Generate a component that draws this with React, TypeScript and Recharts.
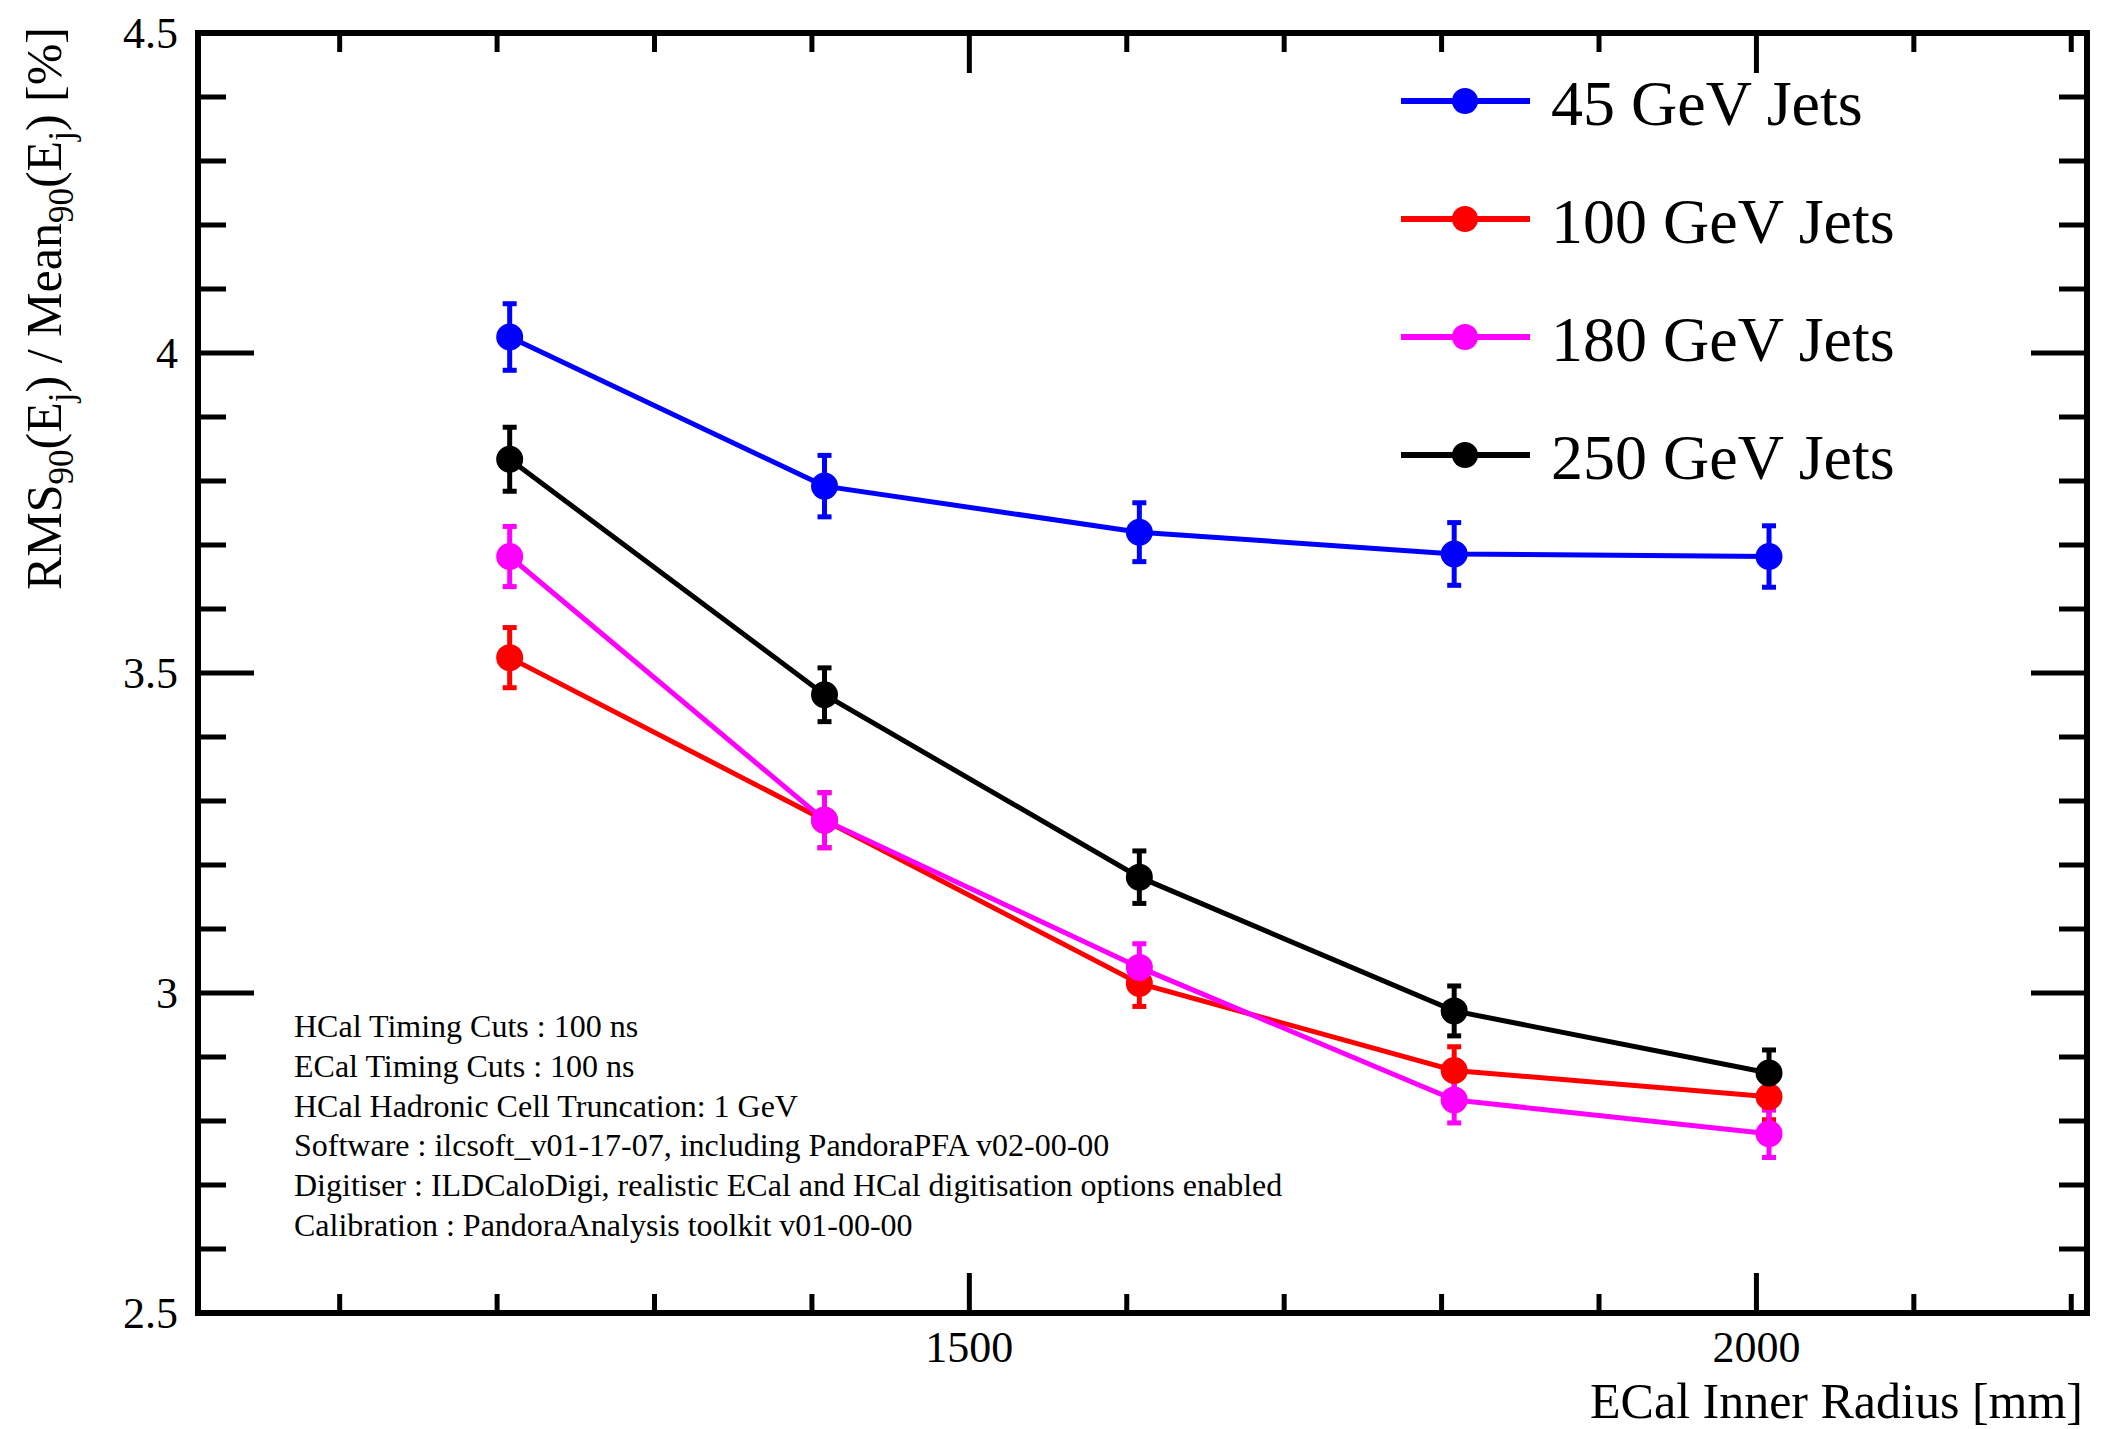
import React from 'react';
import { LineChart, Line, XAxis, YAxis, ErrorBar, ReferenceArea, Legend } from 'recharts';

// ECal inner radius scan, jet energy resolution per jet energy
const radii = [1208, 1408, 1608, 1808, 2008];

const jets45 = [4.025, 3.792, 3.72, 3.686, 3.682];
const jets45Err = [0.052, 0.048, 0.046, 0.049, 0.048];
const jets100 = [3.524, 3.27, 3.015, 2.879, 2.838];
const jets100Err = [0.047, 0.043, 0.036, 0.037, 0.036];
const jets180 = [3.682, 3.27, 3.04, 2.833, 2.78];
const jets180Err = [0.047, 0.043, 0.037, 0.036, 0.037];
const jets250 = [3.834, 3.466, 3.181, 2.972, 2.875];
const jets250Err = [0.05, 0.042, 0.041, 0.039, 0.036];

const xTicks = [1100, 1200, 1300, 1400, 1500, 1600, 1700, 1800, 1900, 2000, 2100, 2200];
const xLabels = [1500, 2000];
const yTicks = [
  2.5, 2.6, 2.7, 2.8, 2.9, 3, 3.1, 3.2, 3.3, 3.4, 3.5, 3.6, 3.7, 3.8, 3.9, 4, 4.1, 4.2, 4.3, 4.4, 4.5,
];
const yLabels = [2.5, 3, 3.5, 4, 4.5];

const notes = [
  'HCal Timing Cuts : 100 ns',
  'ECal Timing Cuts : 100 ns',
  'HCal Hadronic Cell Truncation: 1 GeV',
  'Software : ilcsoft_v01-17-07, including PandoraPFA v02-00-00',
  'Digitiser : ILDCaloDigi, realistic ECal and HCal digitisation options enabled',
  'Calibration : PandoraAnalysis toolkit v01-00-00',
];

const series = [
  { key: 'j45', name: '45 GeV Jets', color: '#0000ff' },
  { key: 'j100', name: '100 GeV Jets', color: '#ff0000' },
  { key: 'j180', name: '180 GeV Jets', color: '#ff00ff' },
  { key: 'j250', name: '250 GeV Jets', color: '#000000' },
];

const rows = radii.map((r, i) => ({
  radius: r,
  j45: jets45[i],
  j45e: jets45Err[i],
  j100: jets100[i],
  j100e: jets100Err[i],
  j180: jets180[i],
  j180e: jets180Err[i],
  j250: jets250[i],
  j250e: jets250Err[i],
}));

const SERIF = '"Liberation Serif", "DejaVu Serif", serif';
const X_DOMAIN: [number, number] = [1010, 2210];
const Y_DOMAIN: [number, number] = [2.5, 4.5];
const labelStyle = { fontFamily: SERIF, fontSize: 44 };

const bottomTick = (props: any) => {
  const { x, y, payload } = props;
  const major = xLabels.includes(payload.value);
  return (
    <g>
      <line x1={x} x2={x} y1={y} y2={y - (major ? 40 : 19)} stroke="#000" strokeWidth={5} />
      {major && (
        <text x={x} y={y + 49} textAnchor="middle" style={labelStyle} fill="#000">
          {payload.value}
        </text>
      )}
    </g>
  );
};

const topTick = (props: any) => {
  const { x, y, payload } = props;
  const major = xLabels.includes(payload.value);
  return <line x1={x} x2={x} y1={y} y2={y + (major ? 40 : 19)} stroke="#000" strokeWidth={5} />;
};

const leftTick = (props: any) => {
  const { x, y, payload } = props;
  const major = yLabels.includes(payload.value);
  return (
    <g>
      <line x1={x} x2={x + (major ? 56 : 28)} y1={y} y2={y} stroke="#000" strokeWidth={5} />
      {major && (
        <text x={x - 20} y={y + 15} textAnchor="end" style={labelStyle} fill="#000">
          {String(payload.value)}
        </text>
      )}
    </g>
  );
};

const rightTick = (props: any) => {
  const { x, y, payload } = props;
  const major = yLabels.includes(payload.value);
  return <line x1={x} x2={x - (major ? 56 : 28)} y1={y} y2={y} stroke="#000" strokeWidth={5} />;
};

const renderLegend = () => (
  <div style={{ fontFamily: SERIF }}>
    {series.map(s => (
      <div key={s.key} style={{ display: 'flex', alignItems: 'center', height: 118 }}>
        <svg width={129} height={30} style={{ display: 'block' }}>
          <line x1={0} x2={129} y1={15} y2={15} stroke={s.color} strokeWidth={6} />
          <circle cx={64} cy={15} r={13} fill={s.color} />
        </svg>
        <span style={{ marginLeft: 21, fontSize: 64, lineHeight: 1, color: '#000', position: 'relative', top: 3 }}>
          {s.name}
        </span>
      </div>
    ))}
  </div>
);

export default function App() {
  return (
    <div style={{ position: 'absolute', left: 0, top: 0, width: 2121, height: 1429, background: '#fff' }}>
      <LineChart
        width={2121}
        height={1429}
        data={rows}
        margin={{ top: 32, right: 33, bottom: 115, left: 197 }}
      >
        <XAxis
          type="number"
          dataKey="radius"
          domain={X_DOMAIN}
          ticks={xTicks}
          interval={0}
          allowDataOverflow
          height={1}
          tickSize={0}
          tickMargin={0}
          axisLine={false}
          tickLine={false}
          tick={bottomTick}
        />
        <XAxis
          xAxisId="top"
          orientation="top"
          type="number"
          dataKey="radius"
          domain={X_DOMAIN}
          ticks={xTicks}
          interval={0}
          allowDataOverflow
          height={1}
          tickSize={0}
          tickMargin={0}
          axisLine={false}
          tickLine={false}
          tick={topTick}
        />
        <YAxis
          type="number"
          domain={Y_DOMAIN}
          ticks={yTicks}
          interval={0}
          allowDataOverflow
          width={1}
          tickSize={0}
          tickMargin={0}
          axisLine={false}
          tickLine={false}
          tick={leftTick}
        />
        <YAxis
          yAxisId="right"
          orientation="right"
          type="number"
          domain={Y_DOMAIN}
          ticks={yTicks}
          interval={0}
          allowDataOverflow
          width={1}
          tickSize={0}
          tickMargin={0}
          axisLine={false}
          tickLine={false}
          tick={rightTick}
        />
        <ReferenceArea
          x1={X_DOMAIN[0]}
          x2={X_DOMAIN[1]}
          y1={Y_DOMAIN[0]}
          y2={Y_DOMAIN[1]}
          fill="none"
          stroke="#000"
          strokeWidth={6}
          ifOverflow="visible"
        />
        {series.map(s => (
          <Line
            key={s.key}
            type="linear"
            dataKey={s.key}
            name={s.name}
            stroke={s.color}
            strokeWidth={5}
            dot={{ r: 12, fill: s.color, stroke: s.color, strokeWidth: 3 }}
            activeDot={false}
            isAnimationActive={false}
          >
            <ErrorBar
              dataKey={`${s.key}e`}
              direction="y"
              width={7}
              stroke={s.color}
              strokeWidth={5}
              isAnimationActive={false}
            />
          </Line>
        ))}
        <Legend
          layout="vertical"
          align="center"
          verticalAlign="middle"
          content={renderLegend}
          wrapperStyle={{ left: 1401, top: 42, width: 'auto', height: 'auto' }}
        />
      </LineChart>

      <svg
        width={2121}
        height={1429}
        style={{ position: 'absolute', left: 0, top: 0, pointerEvents: 'none', fontFamily: SERIF }}
      >
        <text x={2083} y={1418} textAnchor="end" fontSize={50} fill="#000">
          ECal Inner Radius [mm]
        </text>
        <text transform="translate(61, 27) rotate(-90)" textAnchor="end" fontSize={50} fill="#000">
          RMS
          <tspan dy={12} fontSize={35}>90</tspan>
          <tspan dy={-12}>(E</tspan>
          <tspan dy={12} fontSize={35}>j</tspan>
          <tspan dy={-12}>) / Mean</tspan>
          <tspan dy={12} fontSize={35}>90</tspan>
          <tspan dy={-12}>(E</tspan>
          <tspan dy={12} fontSize={35}>j</tspan>
          <tspan dy={-12}>) [%]</tspan>
        </text>
        {notes.map((n, i) => (
          <text key={i} x={294} y={1037 + i * 39.8} fontSize={32} fill="#000">
            {n}
          </text>
        ))}
      </svg>
    </div>
  );
}
